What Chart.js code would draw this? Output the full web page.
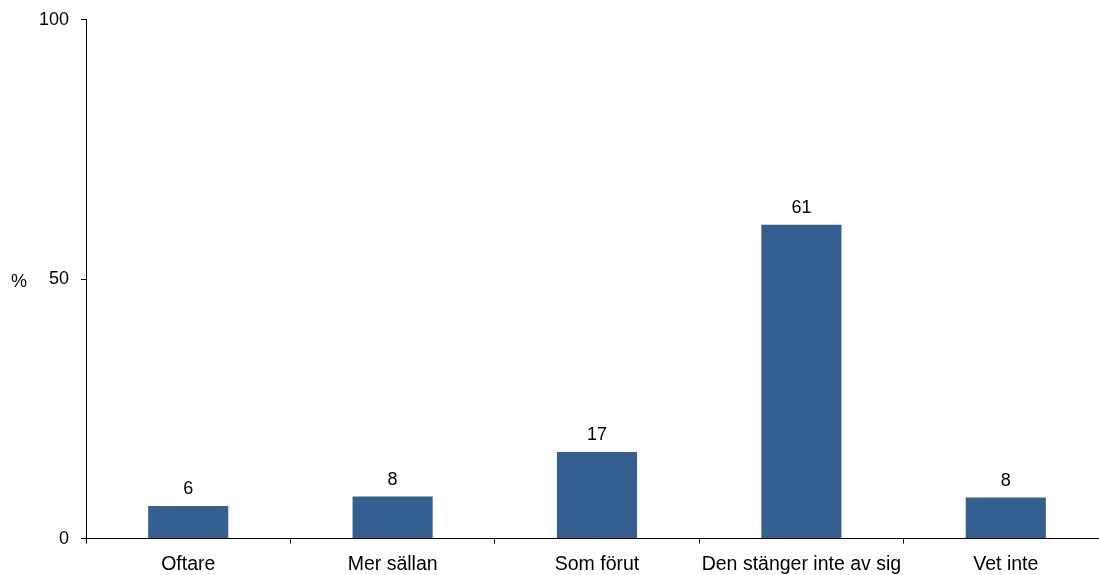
<!DOCTYPE html>
<html>
<head>
<meta charset="utf-8">
<script src="https://cdn.jsdelivr.net/npm/chart.js@4/dist/chart.umd.min.js"></script>
<style>
  html, body { margin: 0; padding: 0; background: #fff; overflow: hidden; }
  #wrap { position: relative; width: 1108px; height: 588px; margin-top: -3px; }
</style>
</head>
<body>
<div id="wrap"><canvas id="c" width="1108" height="588"></canvas></div>
<script>
const categories = ["Oftare", "Mer sällan", "Som förut", "Den stänger inte av sig", "Vet inte"];
const values = [6.3, 8.1, 16.7, 60.5, 7.9];
const valueLabels = ["6", "8", "17", "61", "8"];
const yTicks = [0, 50, 100];
const yUnit = "%";

const FONT = "'Liberation Sans', Arial, sans-serif";

const labelPlugin = {
  id: 'labels',
  afterDatasetsDraw(chart) {
    const ctx = chart.ctx;
    const meta = chart.getDatasetMeta(0);
    ctx.save();
    ctx.font = "18px " + FONT;
    ctx.fillStyle = "#000";
    ctx.textAlign = "center";
    ctx.textBaseline = "alphabetic";
    meta.data.forEach((bar, i) => {
      ctx.fillText(valueLabels[i], bar.x, bar.y - 12);
    });
    const ys = chart.scales.y;
    ctx.textAlign = "left";
    ctx.textBaseline = "middle";
    ctx.fillText(yUnit, 11, ys.getPixelForValue(50) + 3);
    ctx.restore();
  }
};

new Chart(document.getElementById('c'), {
  type: 'bar',
  data: {
    labels: categories,
    datasets: [{
      data: values,
      backgroundColor: '#365f91',
      borderWidth: 0,
      barPercentage: 0.392,
      categoryPercentage: 1.0
    }]
  },
  options: {
    responsive: false,
    animation: false,
    layout: { padding: { left: 27, top: 1, right: 0, bottom: 0 } },
    plugins: { legend: { display: false }, tooltip: { enabled: false } },
    scales: {
      x: {
        offset: true,
        grid: { offset: true, drawOnChartArea: false, drawTicks: true, tickLength: 5, color: '#000' },
        border: { color: '#000', width: 1 },
        ticks: { color: '#000', font: { family: FONT, size: 19.5 }, padding: 9, maxRotation: 0, autoSkip: false }
      },
      y: {
        min: 0, max: 100,
        afterBuildTicks(scale) { scale.ticks = yTicks.map(v => ({ value: v })); },
        grid: { drawOnChartArea: false, drawTicks: true, tickLength: 5, color: '#000' },
        border: { color: '#000', width: 1 },
        ticks: { color: '#000', font: { family: FONT, size: 18 }, padding: 12 }
      }
    }
  },
  plugins: [labelPlugin]
});
</script>
</body>
</html>
